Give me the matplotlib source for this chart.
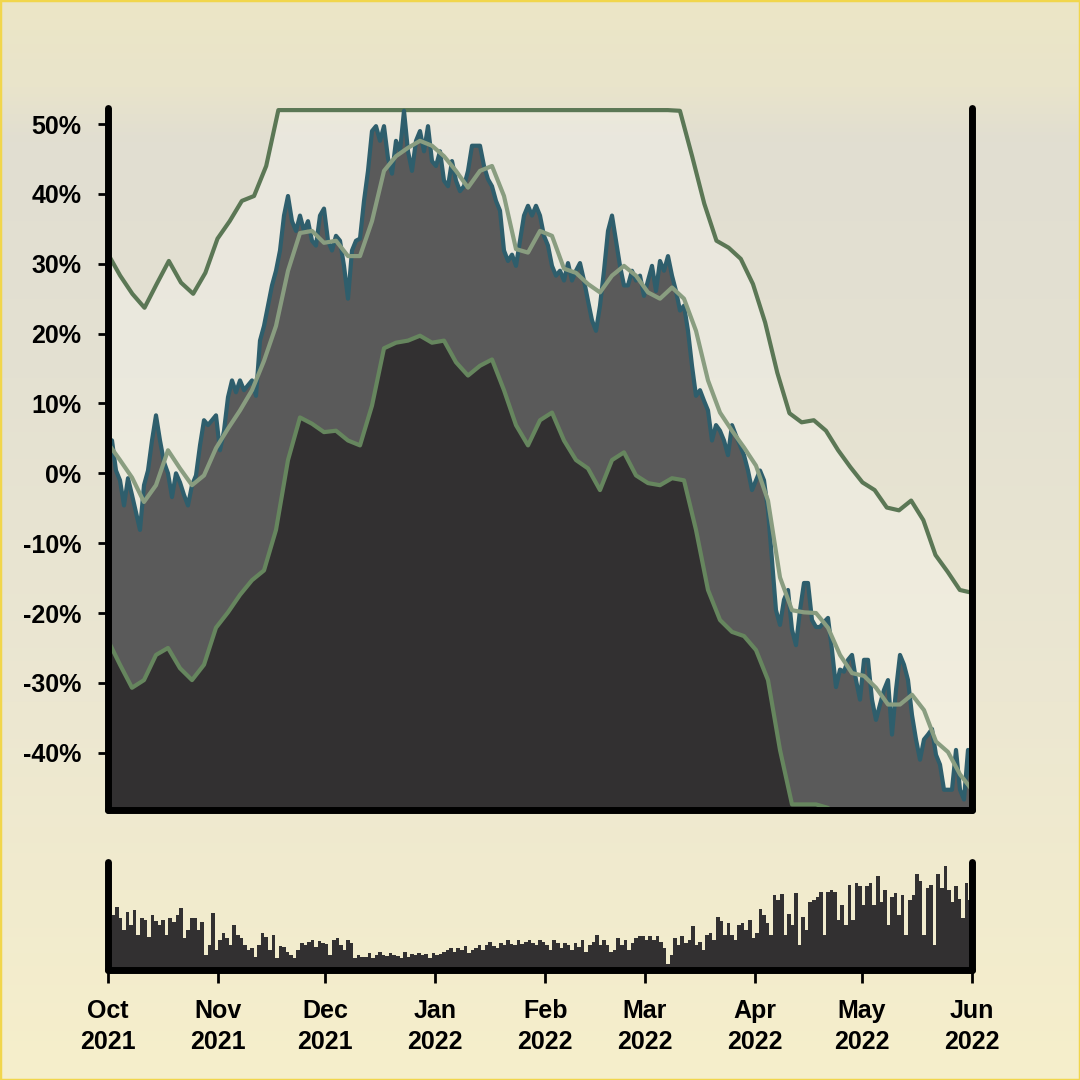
from matplotlib import pyplot as plt
import matplotlib.dates as mdates
import matplotlib.ticker as mticker
from matplotlib.colors import to_rgb
import numpy as np
import pandas as pd


'''
Drawdown style chart: daily % change band with smoothed lines on top,
daily volume bars in a small panel below.
'''

start_date = '2021-10-01'
end_date = '2022-06-01'

# daily % value (noisy line), evenly spaced from start to end
daily_pct = [
	5.0, 4.7, 0.4, -1.0, -4.6, -0.7, -3.1, -5.6, -8.1, -1.7, 0.4, 4.7, 8.3, 4.7, 1.6, 0.0,
	-3.4, 0.0, -1.3, -3.1, -4.6, -1.7, -0.3, 4.0, 7.6, 6.9, 7.6, 8.3, 3.3, 6.1, 10.9, 13.3,
	11.6, 13.3, 11.9, 12.6, 13.3, 11.1, 19.0, 21.1, 24.0, 26.9, 29.0, 31.9, 36.9, 39.7,
	36.1, 34.7, 36.9, 34.7, 36.1, 33.3, 32.6, 36.9, 37.9, 33.3, 31.9, 34.0, 33.3, 29.7,
	25.0, 31.9, 33.3, 33.6, 39.0, 43.3, 49.0, 49.7, 47.6, 49.7, 45.1, 42.9, 47.6, 46.1,
	51.9, 46.1, 43.3, 47.6, 49.0, 46.1, 49.7, 44.7, 44.0, 46.1, 41.9, 41.1, 44.7, 41.9,
	40.4, 41.1, 43.3, 46.9, 46.9, 46.9, 44.0, 42.1, 41.1, 39.0, 37.6, 31.9, 30.4, 31.3,
	29.7, 33.3, 36.9, 38.3, 36.9, 38.3, 36.9, 34.0, 32.6, 29.7, 28.3, 29.0, 27.6, 30.1,
	27.6, 29.0, 30.1, 27.6, 24.7, 21.9, 20.4, 24.0, 29.0, 34.7, 36.9, 33.3, 29.7, 26.9,
	26.9, 29.0, 27.6, 28.3, 25.4, 27.6, 29.7, 26.1, 30.4, 29.0, 31.1, 28.3, 26.1, 23.3,
	24.0, 20.4, 15.4, 11.1, 11.9, 10.4, 9.0, 4.7, 6.9, 6.1, 4.7, 2.6, 6.9, 5.4, 4.0, 2.6,
	0.4, -2.4, -1.0, 0.4, -1.0, -5.3, -12.4, -19.6, -21.7, -18.1, -16.7, -22.4, -24.6,
	-19.6, -15.7, -15.7, -21.0, -22.0, -22.0, -21.3, -20.7, -25.3, -30.6, -28.1, -28.4,
	-26.7, -26.0, -29.6, -32.4, -26.7, -26.7, -32.4, -35.3, -33.1, -31.0, -29.6, -37.4,
	-31.0, -26.0, -27.4, -29.6, -34.6, -38.1, -41.0, -38.1, -37.4, -36.6, -40.3, -41.7,
	-45.3, -45.3, -45.3, -39.6, -45.3, -46.7, -39.6, -45.3,
]

# smoothed average of the daily line
smooth_pct = [
	4.3, 1.9, -0.6, -4.1, -1.7, 3.3, 0.7, -1.7, -0.3, 3.6, 6.4, 9.0, 11.9, 16.1, 21.1,
	29.0, 34.4, 34.7, 33.0, 33.3, 31.1, 31.1, 36.1, 43.3, 45.4, 46.6, 47.6, 46.9, 45.4,
	43.3, 40.9, 43.3, 44.0, 39.7, 32.1, 31.6, 34.7, 34.0, 29.3, 28.7, 27.1, 25.9, 28.3,
	29.7, 28.3, 25.9, 25.0, 26.6, 25.0, 20.4, 13.3, 8.7, 6.1, 3.7, 1.1, -3.9, -14.9,
	-19.6, -19.9, -20.0, -22.1, -26.0, -28.6, -29.0, -30.7, -33.1, -33.1, -31.7, -33.9,
	-38.4, -39.9, -43.1, -45.3,
]

# upper band (capped at 52%)
upper_pct = [
	31.4, 28.3, 25.7, 23.7, 27.1, 30.4, 27.3, 25.7, 28.7, 33.6, 36.1, 39.0, 39.7, 44.0,
	52.0, 52.0, 52.0, 52.0, 52.0, 52.0, 52.0, 52.0, 52.0, 52.0, 52.0, 52.0, 52.0, 52.0,
	52.0, 52.0, 52.0, 52.0, 52.0, 52.0, 52.0, 52.0, 52.0, 52.0, 52.0, 52.0, 52.0, 52.0,
	52.0, 52.0, 52.0, 52.0, 52.0, 51.9, 45.4, 38.6, 33.3, 32.3, 30.7, 27.1, 21.6, 14.4,
	8.6, 7.3, 7.6, 6.1, 3.3, 0.9, -1.3, -2.4, -4.9, -5.3, -3.9, -6.7, -11.7, -14.1,
	-16.7, -17.1,
]

# lower band
lower_pct = [
	-23.9, -27.4, -30.7, -29.6, -26.0, -25.0, -27.9, -29.6, -27.4, -22.1, -19.9, -17.4,
	-15.3, -13.9, -8.1, 1.9, 8.0, 7.1, 5.9, 6.1, 4.7, 4.0, 9.7, 17.9, 18.7, 19.0, 19.7,
	18.7, 19.0, 15.9, 14.0, 15.4, 16.3, 11.9, 6.9, 4.0, 7.6, 8.7, 4.7, 1.9, 0.7, -2.4,
	1.9, 3.0, -0.3, -1.4, -1.7, -0.7, -1.0, -8.1, -16.7, -21.0, -22.7, -23.3, -25.3,
	-29.6, -39.6, -47.4, -47.4, -47.4, -47.9, -50.0, -50.0, -50.0, -50.0, -50.0, -50.0,
	-50.0, -50.0, -50.0, -50.0, -50.0, -50.0,
]

# daily volume, one bar per day from start_date
volume = [
	40, 55, 63, 52, 40, 58, 45, 60, 35, 52, 50, 33, 55, 49, 45, 50, 35, 52, 48, 55,
	62, 32, 40, 52, 52, 40, 48, 15, 25, 57, 20, 30, 37, 32, 25, 45, 35, 32, 25, 20,
	22, 13, 25, 37, 33, 20, 35, 12, 24, 23, 18, 15, 12, 20, 27, 25, 28, 30, 23, 29,
	27, 26, 15, 30, 32, 25, 20, 30, 27, 12, 15, 13, 13, 17, 12, 15, 18, 15, 14, 17,
	15, 14, 12, 18, 13, 16, 15, 17, 15, 16, 12, 17, 15, 16, 18, 20, 22, 18, 22, 20,
	24, 17, 20, 22, 25, 20, 25, 28, 24, 22, 27, 25, 30, 26, 25, 30, 26, 28, 30, 27,
	25, 30, 28, 25, 20, 30, 27, 22, 27, 25, 20, 27, 23, 30, 18, 25, 28, 35, 25, 30,
	25, 18, 20, 32, 25, 30, 20, 27, 32, 34, 34, 30, 34, 30, 34, 28, 22, 6, 15, 32,
	25, 34, 27, 30, 44, 25, 28, 20, 35, 37, 30, 53, 49, 35, 47, 35, 30, 45, 47, 40,
	50, 32, 37, 61, 55, 47, 35, 75, 70, 76, 35, 56, 45, 77, 25, 53, 40, 68, 70, 73,
	78, 35, 78, 80, 78, 50, 65, 45, 85, 50, 87, 84, 65, 84, 87, 65, 94, 68, 80, 45,
	73, 77, 55, 75, 35, 70, 75, 96, 89, 35, 82, 85, 25, 96, 82, 104, 80, 68, 84, 71,
	52, 87, 70,
]

month_fmt = '%b\n%Y'


def gradient_background(fig):
	# vertical gradient behind everything
	stops = [(0.0, '#ece6c6'), (0.08, '#e9e4cb'), (0.13, '#e1ded1'), (0.35, '#e4e1d2'),
			 (0.65, '#ece7d1'), (1.0, '#f6efcb')]
	ys = np.linspace(0, 1, 400)
	cols = np.zeros((400, 1, 3))
	for i in range(3):
		cols[:, 0, i] = np.interp(ys, [s[0] for s in stops], [to_rgb(s[1])[i] for s in stops])
	bg = fig.add_axes([0, 0, 1, 1], zorder=-10)
	bg.imshow(cols, aspect='auto', extent=[0, 1, 0, 1], origin='upper')
	bg.axis('off')
	fig.add_artist(plt.Rectangle((0, 0), 1, 1, transform=fig.transFigure, fill=False,
								 ec='#f1d64c', lw=2.5))


def style_spines(ax):
	ax.spines['top'].set_visible(False)
	for side in ['left', 'right', 'bottom']:
		ax.spines[side].set_linewidth(5)
		ax.spines[side].set_color('black')
		ax.spines[side].set_capstyle('round')


def main():
	plt.rcParams['font.family'] = ['Liberation Sans', 'DejaVu Sans']
	plt.rcParams['font.weight'] = 'bold'

	fig = plt.figure(figsize=(10.8, 10.8), dpi=100)
	gradient_background(fig)

	start = pd.Timestamp(start_date)
	end = pd.Timestamp(end_date)
	d_daily = pd.date_range(start, end, periods=len(daily_pct))
	d_smooth = pd.date_range(start, end, periods=len(smooth_pct))
	d_upper = pd.date_range(start, end, periods=len(upper_pct))
	d_lower = pd.date_range(start, end, periods=len(lower_pct))

	ax = fig.add_axes([0.1, 0.25, 0.8, 0.65])
	ax.set_facecolor('none')
	bottom = -60

	ax.fill_between(d_upper, upper_pct, bottom, color='white', alpha=0.28, lw=0)
	ax.plot(d_upper, upper_pct, color='#5b7755', lw=3, solid_capstyle='round')
	ax.fill_between(d_daily, daily_pct, bottom, color='#5a5a5a', lw=0)
	ax.plot(d_daily, daily_pct, color='#2e5e6c', lw=3)
	ax.plot(d_smooth, smooth_pct, color='#899d80', lw=3)
	ax.fill_between(d_lower, lower_pct, bottom, color='#323031', lw=0)
	ax.plot(d_lower, lower_pct, color='#66865e', lw=3)

	ax.set_xlim(start, end)
	ax.set_ylim(-48.2, 52.3)
	ax.yaxis.set_major_locator(mticker.MultipleLocator(10))
	ax.yaxis.set_major_formatter(mticker.FuncFormatter(lambda v, p: '%d%%' % round(v)))
	ax.set_xticks([])
	ax.tick_params(axis='y', length=7, width=2, pad=12, labelsize=18)
	style_spines(ax)

	# volume panel
	axv = fig.add_axes([0.1, 0.102, 0.8, 0.1])
	axv.set_facecolor('none')
	d_vol = pd.date_range(start, periods=len(volume), freq='D')
	axv.bar(d_vol, volume, width=1.0, align='edge', color='#323031', lw=0)
	axv.set_xlim(start, end)
	axv.set_ylim(0, 108)
	axv.set_yticks([])
	axv.xaxis.set_major_locator(mdates.MonthLocator())
	axv.xaxis.set_major_formatter(mdates.DateFormatter(month_fmt))
	axv.tick_params(axis='x', length=9, width=2, pad=12, labelsize=18)
	for lbl in axv.get_xticklabels():
		lbl.set_linespacing(1.35)
	style_spines(axv)

	plt.savefig('out.png', dpi=100)


if __name__ == "__main__":
	main()
